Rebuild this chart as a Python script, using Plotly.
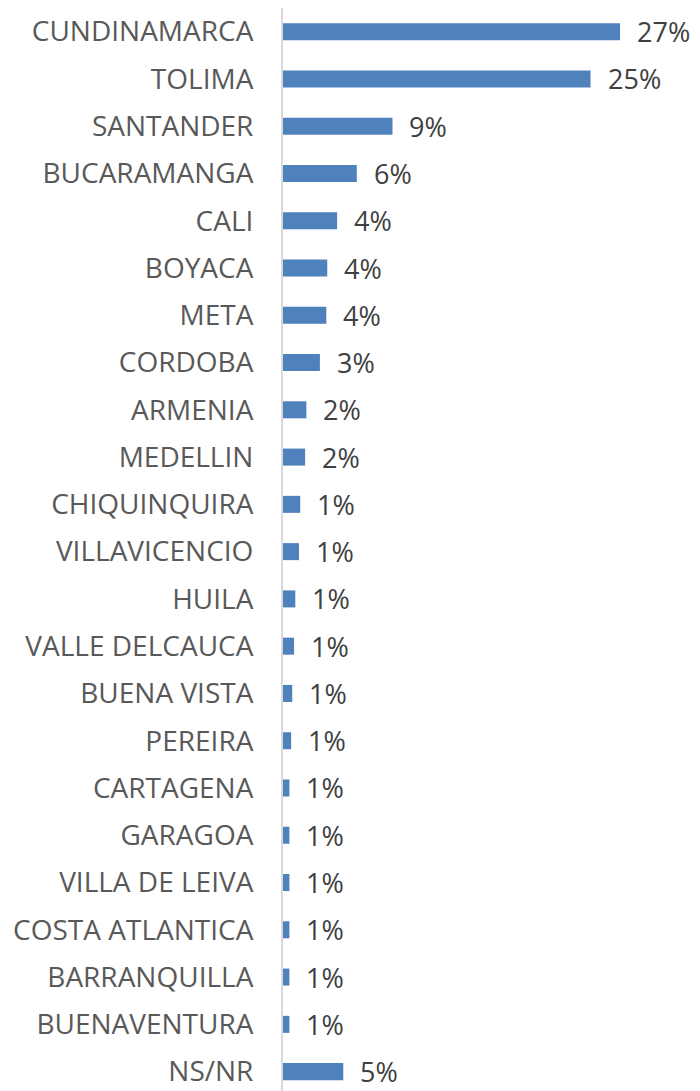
import plotly.graph_objects as go

categories = ["CUNDINAMARCA", "TOLIMA", "SANTANDER", "BUCARAMANGA", "CALI", "BOYACA", "META",
              "CORDOBA", "ARMENIA", "MEDELLIN", "CHIQUINQUIRA", "VILLAVICENCIO", "HUILA",
              "VALLE DELCAUCA", "BUENA VISTA", "PEREIRA", "CARTAGENA", "GARAGOA",
              "VILLA DE LEIVA", "COSTA ATLANTICA", "BARRANQUILLA", "BUENAVENTURA", "NS/NR"]
values = [27.4, 25.0, 8.9, 6.0, 4.4, 3.6, 3.52, 3.0, 1.9, 1.8, 1.4, 1.3, 1.0,
          0.9, 0.75, 0.66, 0.52, 0.52, 0.52, 0.52, 0.52, 0.52, 4.9]

fig = go.Figure()
fig.add_trace(go.Bar(
    y=categories, x=values, orientation="h",
    marker=dict(color="#4F81BD", line=dict(width=0)),
    width=0.36, hoverinfo="skip",
))

for c, v in zip(categories, values):
    fig.add_annotation(x=v, y=c, text=f"{round(v):d}%", showarrow=False,
                       xanchor="left", yanchor="middle", xshift=15, yshift=0,
                       font=dict(family="Open Sans", size=27, color="#404040"))

fig.update_layout(
    width=692, height=1083,
    margin=dict(l=275, r=0, t=0, b=0),
    paper_bgcolor="white", plot_bgcolor="white",
    showlegend=False,
    font=dict(family="Open Sans", size=28, color="#595959"),
)
fig.update_xaxes(range=[0, 33.9], visible=False, showgrid=False, zeroline=False)
fig.update_yaxes(
    categoryorder="array", categoryarray=categories,
    range=[22.41, -0.5], showgrid=False, zeroline=False,
    showline=True, linecolor="#D9D9D9", linewidth=2,
    ticks="", ticklabelstandoff=22,
    tickfont=dict(family="Open Sans", size=28, color="#595959"),
)

fig.write_html("out.html")
